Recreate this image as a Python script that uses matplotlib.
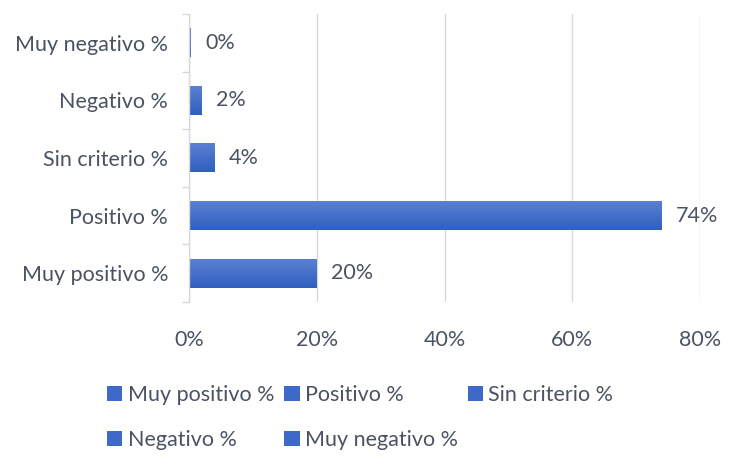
import numpy as np
import matplotlib
matplotlib.use("Agg")
import matplotlib.pyplot as plt
from matplotlib.patches import Patch
from matplotlib.colors import LinearSegmentedColormap
from matplotlib.ticker import FixedLocator, PercentFormatter

categories = ["Muy positivo %", "Positivo %", "Sin criterio %", "Negativo %", "Muy negativo %"]
values = [20, 74, 4, 2, 0.3]
labels = ["20%", "74%", "4%", "2%", "0%"]
xticks = [0, 20, 40, 60, 80]

plt.rcParams['font.family'] = ['Lato', 'DejaVu Sans']
text_color = "#4a5363"
grid_color = "#d9d9d9"
top_c, bot_c = "#5b80d2", "#2f5fbf"
cmap = LinearSegmentedColormap.from_list("g", [bot_c, top_c])
fs = 15.5

fig = plt.figure(figsize=(7.4, 4.66), dpi=100)
ax = fig.add_axes([189/740, 1 - 302/466, (700-189)/740, (302-14)/466])

y = np.arange(len(categories))
bars = ax.barh(y, values, height=0.5, color="none", zorder=2)
grad = np.linspace(0, 1, 64).reshape(-1, 1)
for b in bars:
    x0, y0, w, h = b.get_x(), b.get_y(), b.get_width(), b.get_height()
    ax.imshow(grad, extent=[x0, x0 + w, y0, y0 + h], origin="lower", aspect="auto",
              cmap=cmap, zorder=3, interpolation="bilinear")

for yi, v, lab in zip(y, values, labels):
    ax.annotate(lab, (v, yi), xytext=(14, 0), textcoords="offset pixels",
                va="center", ha="left", fontsize=fs, color=text_color)

ax.set_xlim(0, 80)
ax.set_ylim(-0.5, len(categories) - 0.5)
ax.set_xticks(xticks)
ax.xaxis.set_major_formatter(PercentFormatter(decimals=0))
ax.set_yticks(y)
ax.set_yticklabels(categories)
ax.yaxis.set_minor_locator(FixedLocator(np.arange(-0.5, len(categories), 1.0)))
ax.tick_params(axis="y", which="major", length=0, pad=15, labelsize=fs, labelcolor=text_color)
ax.tick_params(axis="y", which="minor", length=5, color=grid_color, width=1)
ax.tick_params(axis="x", which="major", length=0, pad=20, labelsize=fs, labelcolor=text_color)
ax.grid(axis="x", color=grid_color, linewidth=1, zorder=0)
ax.set_axisbelow(True)
for s in ["top", "right", "bottom"]:
    ax.spines[s].set_visible(False)
ax.spines["left"].set_color(grid_color)
ax.spines["left"].set_linewidth(1)
ax.spines["left"].set_zorder(4)

handles = {c: Patch(facecolor="#3d69c9", edgecolor="none") for c in categories}
order = ["Muy positivo %", "Negativo %", "Positivo %", "Muy negativo %", "Sin criterio %"]
leg = fig.legend([handles[c] for c in order], order, ncol=3, loc="upper left",
                 bbox_to_anchor=(88/740, 1 - 366/466), frameon=False, fontsize=fs,
                 handlelength=0.7, handleheight=0.7, handletextpad=0.25,
                 columnspacing=0.47, labelspacing=1.15, labelcolor=text_color)

fig.savefig("out.png", dpi=100, facecolor="white")
